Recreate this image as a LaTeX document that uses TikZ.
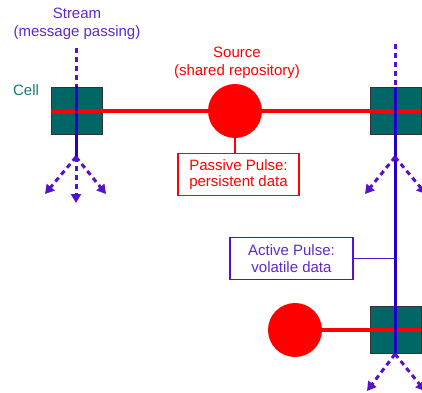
\documentclass[tikz,border=0pt]{standalone}
\usepackage{fontspec}
\setmainfont{Liberation Sans}
\usetikzlibrary{arrows.meta}
\definecolor{cred}{RGB}{255,0,0}
\definecolor{cblue}{RGB}{34,0,204}
\definecolor{cpurp}{RGB}{85,17,204}
\definecolor{ctext}{RGB}{95,40,200}
\definecolor{cteal}{RGB}{0,102,102}
\definecolor{ccelltext}{RGB}{20,120,120}
\begin{document}
\begin{tikzpicture}[x=1pt,y=-1pt,
  cellbox/.style={draw=black!80, line width=0.8pt, fill=cteal, minimum width=51pt, minimum height=47pt, inner sep=0pt},
  srcdot/.style={circle, fill=cred, minimum size=54pt, inner sep=0pt},
  lbl/.style={font=\fontsize{15}{18}\selectfont, align=center, inner sep=0pt},
  pulsebox/.style={draw, fill=white, line width=1.4pt, align=center, font=\fontsize{15}{16.5}\selectfont, inner sep=0pt, minimum height=42pt},
  redline/.style={cred, line width=4pt},
  streamline/.style={cblue, line width=3pt},
  dots/.style={cpurp, line width=3pt, dash pattern=on 5pt off 4pt},
  spread/.style={cpurp, line width=3pt, dash pattern=on 5pt off 4pt, -{Triangle[length=9pt,width=10pt]}},
  link/.style={line width=1.4pt}
]
\useasboundingbox (0,0) rectangle (422,392);

% labels
\node[lbl, text=ctext] (stream) at (77,24) {Stream\\(message passing)};
\node[lbl, text=cred] (source) at (237,63) {Source\\(shared repository)};
\node[lbl, text=ccelltext] (celllbl) at (26,90) {Cell};

% cells and sources
\node[cellbox] (c1) at (76.5,111) {};
\node[cellbox] (c2) at (395.5,111) {};
\node[cellbox] (c3) at (395.5,330) {};
\node[srcdot] (s1) at (235,111) {};
\node[srcdot] (s2) at (295,330) {};

% red (source) lines
\draw[redline] (c1.west) -- (s1);
\draw[redline] (s1) -- (c2.east);
\draw[redline] (s2) -- (c3.east);

% stream coordinates
\coordinate (l0) at (76,48);
\coordinate (l1) at (76,86);
\coordinate (l2) at (76,157);
\coordinate (la) at (45,194);
\coordinate (lb) at (76,203);
\coordinate (lc) at (106,194);
\coordinate (r0) at (395,44);
\coordinate (r1) at (395,87);
\coordinate (r2) at (395,157);
\coordinate (r3) at (395,354);
\coordinate (ra) at (365,194);
\coordinate (rb) at (426,194);
\coordinate (rc) at (367,391);
\coordinate (rd) at (425,391);

% left stream
\draw[dots] (l0) -- (l1);
\draw[streamline] (l1) -- (l2);
\draw[spread] (l2) -- (la);
\draw[spread] (l2) -- (lb);
\draw[spread] (l2) -- (lc);

% right stream
\draw[dots] (r0) -- (r1);
\draw[streamline] (r1) -- (r3);
\draw[spread] (r2) -- (ra);
\draw[spread] (r2) -- (rb);
\draw[spread] (r3) -- (rc);
\draw[spread] (r3) -- (rd);

% pulse boxes
\node[pulsebox, draw=cred, text=cred, minimum width=121pt] (pp) at (238.5,174.5) {Passive Pulse:\\persistent data};
\draw[link, cred] (s1.south) -- (s1.south |- pp.north);
\node[pulsebox, draw=cpurp, text=ctext, minimum width=123pt] (ap) at (291.5,258.5) {Active Pulse:\\volatile data};
\draw[link, cpurp] (ap.east) -- (ap.east -| r1);
\end{tikzpicture}
\end{document}
